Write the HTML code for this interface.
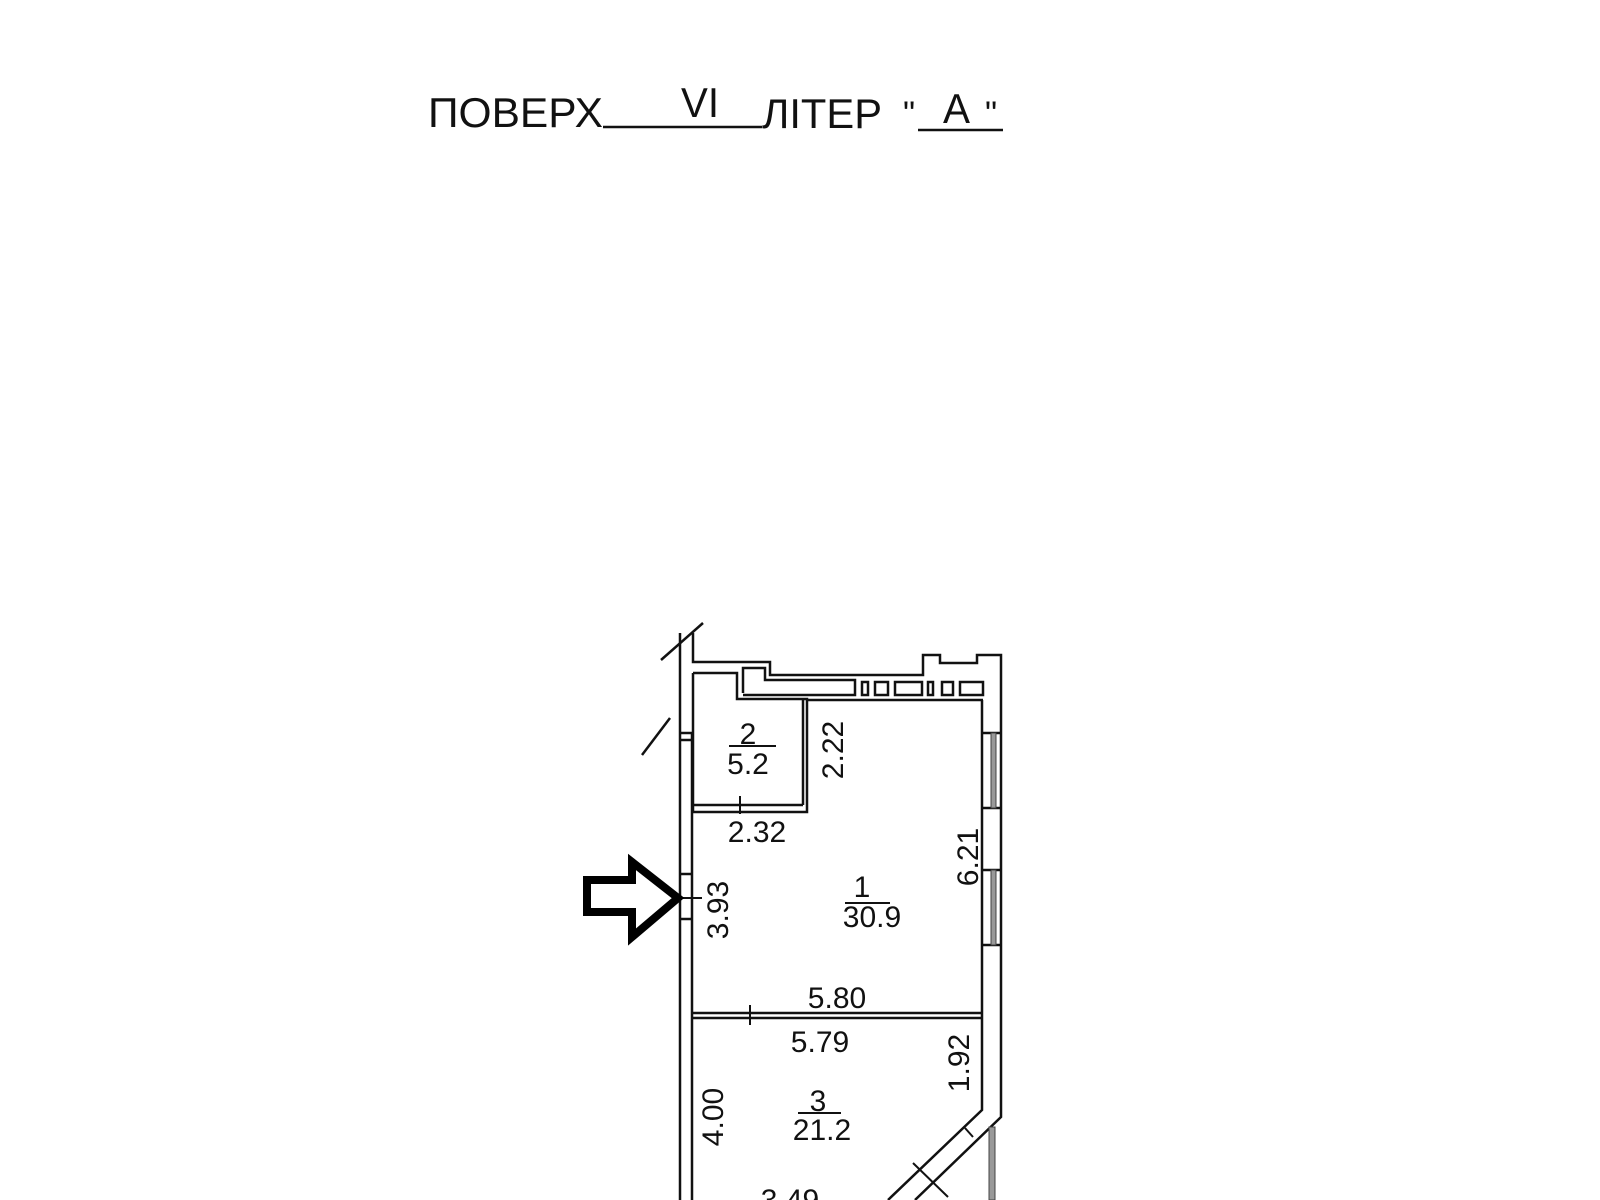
<!DOCTYPE html>
<html><head><meta charset="utf-8"><style>
html,body{margin:0;padding:0;background:#fff;}
svg{display:block;}
text{font-family:"Liberation Sans",sans-serif;fill:#111;}
</style></head><body>
<svg width="1600" height="1200" viewBox="0 0 1600 1200" xmlns="http://www.w3.org/2000/svg">
<rect width="1600" height="1200" fill="#fff"/>
<g font-size="42">
<text x="428" y="127" textLength="175" lengthAdjust="spacingAndGlyphs">ПОВЕРХ</text>
<text x="681" y="117" textLength="38" lengthAdjust="spacingAndGlyphs">VI</text>
<text x="762" y="128" textLength="120" lengthAdjust="spacingAndGlyphs">ЛІТЕР</text>
<text x="903" y="125" font-size="34">"</text>
<text x="943" y="123" textLength="27" lengthAdjust="spacingAndGlyphs">A</text>
<text x="985" y="125" font-size="34">"</text>
</g>
<g stroke="#111" stroke-width="2.5" fill="none">
<line x1="603" y1="127" x2="762" y2="127"/>
<line x1="918" y1="130" x2="1003" y2="130"/>
</g>
<g stroke="#111" stroke-width="2.5" fill="none" stroke-linejoin="miter">
<line x1="680" y1="633" x2="680" y2="1200"/>
<line x1="692" y1="733" x2="692" y2="1200"/>
<polyline points="680,733 692,733"/>
<polyline points="680,740 692,740"/>
<line x1="661" y1="660" x2="703" y2="623"/>
<line x1="642" y1="755" x2="670" y2="718"/>
<polyline points="693,633 693,662 770,662 770,675 923,675 923,655 940,655 940,663 977,663 977,655 1001,655 1001,1117 915,1200"/>
<polyline points="693,673 737,673 737,699 807,699 807,812 692,812"/>
<line x1="803" y1="699" x2="803" y2="805"/>
<line x1="693" y1="805" x2="803" y2="805"/>
<line x1="693" y1="673" x2="693" y2="812"/>
<polyline points="743,693 743,668 765,668 765,680 855,680 855,695 743,695"/>
<rect x="862" y="682" width="6" height="13"/>
<rect x="875" y="682" width="13" height="13"/>
<rect x="895" y="682" width="27" height="13"/>
<rect x="928" y="682" width="5" height="13"/>
<rect x="942" y="682" width="11" height="13"/>
<rect x="960" y="682" width="23" height="13"/>
<line x1="808" y1="700" x2="983" y2="700"/>
<polyline points="982,700 982,1110 888,1200"/>
<line x1="692" y1="1013" x2="982" y2="1013"/>
<line x1="692" y1="1018" x2="982" y2="1018"/>
<line x1="750" y1="1005" x2="750" y2="1025" stroke-width="2"/>
<line x1="680" y1="874" x2="692" y2="874"/>
<line x1="680" y1="919" x2="692" y2="919"/>
<line x1="678" y1="898" x2="702" y2="898" stroke-width="2"/>
<line x1="740" y1="796" x2="740" y2="814" stroke-width="2"/>
<line x1="913" y1="1163" x2="948" y2="1197" stroke-width="2"/>
<line x1="965" y1="1128" x2="973" y2="1137" stroke-width="2"/>
<line x1="982" y1="733" x2="1001" y2="733"/>
<line x1="982" y1="808" x2="1001" y2="808"/>
<line x1="982" y1="870" x2="1001" y2="870"/>
<line x1="982" y1="945" x2="1001" y2="945"/>
</g>
<g fill="#999" stroke="#444" stroke-width="1">
<rect x="991" y="733" width="5" height="75"/>
<rect x="991" y="870" width="5" height="75"/>
<rect x="989" y="1127" width="6" height="73"/>
</g>
<polygon points="587,880 632,880 632,862 678,898 632,937 632,912 587,912" fill="none" stroke="#000" stroke-width="8" stroke-linejoin="miter"/>
<g font-size="30" text-anchor="middle">
<text x="748" y="744">2</text>
<line x1="729" y1="746" x2="776" y2="746" stroke="#111" stroke-width="2"/>
<text x="748" y="774">5.2</text>
<text x="757" y="842">2.32</text>
<text x="832" y="750" transform="rotate(-90 832 750)" dy="11">2.22</text>
<text x="862" y="897">1</text>
<line x1="845" y1="903" x2="890" y2="903" stroke="#111" stroke-width="2"/>
<text x="872" y="927">30.9</text>
<text x="717" y="910" transform="rotate(-90 717 910)" dy="11">3.93</text>
<text x="967" y="857" transform="rotate(-90 967 857)" dy="11">6.21</text>
<text x="837" y="1008">5.80</text>
<text x="820" y="1052">5.79</text>
<text x="958" y="1063" transform="rotate(-90 958 1063)" dy="11">1.92</text>
<text x="818" y="1111">3</text>
<line x1="798" y1="1113" x2="841" y2="1113" stroke="#111" stroke-width="2"/>
<text x="822" y="1140">21.2</text>
<text x="712" y="1117" transform="rotate(-90 712 1117)" dy="11">4.00</text>
<text x="790" y="1210">3.49</text>
</g>
</svg>
</body></html>
